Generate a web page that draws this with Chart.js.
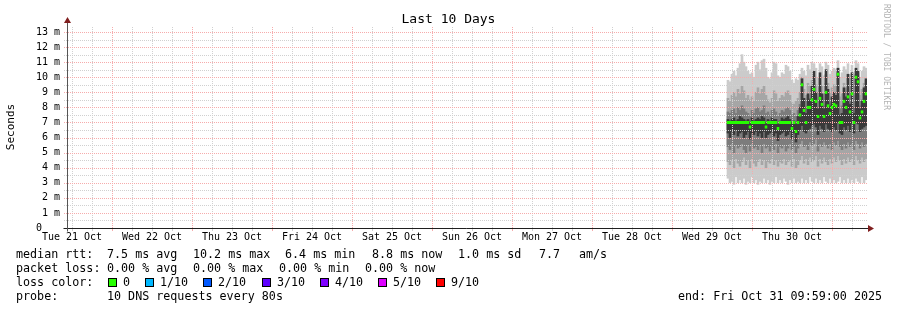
<!DOCTYPE html>
<html>
<head>
<meta charset="utf-8">
<script src="https://cdn.jsdelivr.net/npm/chart.js@4/dist/chart.umd.min.js"></script>
<style>
  html, body { margin:0; padding:0; background:#fff; }
  #wrap { position:relative; width:897px; height:310px; overflow:hidden; background:#fff; }
  canvas { position:absolute; left:0; top:0; }
  .t { position:absolute; font-family:'DejaVu Sans Mono', monospace; font-size:11.7px; line-height:14px; white-space:pre; color:#000; }
  .sq { position:absolute; width:7px; height:7px; border:1px solid #000; }
  #title { position:absolute; left:0; width:897px; top:11px; text-align:center; font-family:'DejaVu Sans Mono', monospace; font-size:13px; line-height:16px; color:#000; }
  #rrd { position:absolute; left:881px; top:4px; writing-mode:vertical-rl; font-family:'DejaVu Sans Mono', monospace; font-size:8px; line-height:10px; color:#b4b4b4; white-space:pre; }
</style>
</head>
<body>
<div id="wrap">
<canvas id="c" width="897" height="310"></canvas>
<div id="title">Last 10 Days</div>
<div id="rrd">RRDTOOL / TOBI OETIKER</div>
<div class="t" style="left:16px;top:247px">median rtt:</div>
<div class="t" style="left:107px;top:247px">7.5 ms avg</div>
<div class="t" style="left:193px;top:247px">10.2 ms max</div>
<div class="t" style="left:285px;top:247px">6.4 ms min</div>
<div class="t" style="left:372px;top:247px">8.8 ms now</div>
<div class="t" style="left:458px;top:247px">1.0 ms sd</div>
<div class="t" style="left:539px;top:247px">7.7</div>
<div class="t" style="left:579px;top:247px">am/s</div>

<div class="t" style="left:16px;top:261px">packet loss:</div>
<div class="t" style="left:107px;top:261px">0.00 % avg</div>
<div class="t" style="left:193px;top:261px">0.00 % max</div>
<div class="t" style="left:279px;top:261px">0.00 % min</div>
<div class="t" style="left:365px;top:261px">0.00 % now</div>

<div class="t" style="left:16px;top:275px">loss color:</div>
<div id="losslegend"></div>

<div class="t" style="left:16px;top:289px">probe:</div>
<div class="t" style="left:107px;top:289px">10 DNS requests every 80s</div>
<div class="t" style="left:678px;top:289px">end: Fri Oct 31 09:59:00 2025</div>
</div>

<script>
// ---------- DATA ----------
// x axis: hours since Tue 21 Oct 00:00
const axisStartHour = 10.5;
const axisEndHour = 250.5;
const dayLabels = ['Tue 21 Oct','Wed 22 Oct','Thu 23 Oct','Fri 24 Oct','Sat 25 Oct','Sun 26 Oct','Mon 27 Oct','Tue 28 Oct','Wed 29 Oct','Thu 30 Oct'];
const dayLabelHours = [12, 36, 60, 84, 108, 132, 156, 180, 204, 228];
const yTickValues = [0,1,2,3,4,5,6,7,8,9,10,11,12,13];

// sample times (hours since Tue 21 Oct 00:00), one RRD step each
const firstSampleHour = 208.8;
const sampleStepHours = 0.6;

// values in milliseconds
const median = [
  7.0,7.0,7.0,7.0,7.0,7.0,7.0,7.0,7.0,7.0,
  7.0,6.7,7.0,7.0,7.0,7.0,7.0,7.0,7.0,6.7,
  7.0,7.0,7.0,7.0,7.0,6.6,7.0,7.0,7.0,7.0,
  7.0,7.0,6.6,7.0,6.4,7.0,7.5,9.5,7.8,7.0,
  8.0,8.0,8.5,9.2,8.4,7.4,8.6,8.2,7.4,9.0,
  8.1,7.6,8.0,8.2,8.1,10.2,7.0,7.0,8.4,8.0,
  8.7,7.7,8.9,7.0,10.0,9.7,7.3,7.7,8.4,8.9
];
const smokeMin = [
  3.3,3.0,3.1,2.9,3.4,3.0,3.2,3.0,3.3,2.9,
  3.1,3.0,3.4,3.0,3.2,2.9,3.1,3.0,3.3,3.0,
  3.2,2.9,3.1,3.0,3.4,3.0,3.2,3.0,3.3,3.1,
  2.9,3.2,3.0,3.3,3.0,3.1,3.0,3.3,3.0,3.2,
  3.0,3.4,3.1,3.0,3.3,3.0,3.2,3.0,3.4,3.1,
  3.0,3.3,3.0,3.2,3.0,3.1,3.4,3.0,3.2,3.0,
  3.3,3.0,3.2,3.0,3.3,3.1,3.0,3.4,3.0,3.2
];
const smokeMax = [
  9.8,9.7,10.2,10.4,10.1,10.6,10.9,11.5,11.0,10.7,
  10.4,10.2,10.3,10.0,10.8,11.0,10.5,11.1,11.2,10.6,
  10.0,9.9,10.3,11.0,10.9,10.1,10.0,10.3,10.2,10.8,
  10.7,10.4,9.8,9.6,9.9,9.8,10.2,10.6,10.4,10.1,
  10.8,10.5,11.0,10.9,10.6,10.0,10.9,10.7,10.1,11.0,
  10.8,10.2,10.4,10.6,10.5,11.1,10.0,10.3,10.7,10.5,
  10.9,10.2,10.8,10.1,11.1,10.9,10.0,10.4,10.7,10.6
];
const band2Lo = [
  4.4,4.2,4.5,4.0,4.6,4.3,4.1,4.4,4.7,4.2,
  4.5,4.0,4.6,4.3,4.1,4.4,4.6,4.2,4.5,4.0,
  4.4,4.3,4.6,4.2,4.5,4.1,4.4,4.3,4.6,4.2,
  4.4,4.5,4.1,4.6,4.0,4.2,4.5,4.8,4.3,4.6,
  4.2,4.7,4.4,4.5,4.8,4.1,4.6,4.3,4.7,4.4,
  4.2,4.6,4.3,4.7,4.4,4.8,4.5,4.2,4.6,4.3,
  4.7,4.4,4.6,4.2,4.8,4.5,4.3,4.7,4.4,4.6
];
const band2Hi = [
  8.6,8.4,8.8,9.0,8.7,9.2,8.9,9.4,9.1,8.6,
  8.8,8.5,8.7,8.4,9.0,9.3,8.9,9.2,9.4,8.8,
  8.5,8.3,8.6,9.1,8.9,8.4,8.6,8.8,8.7,9.0,
  9.1,8.8,8.3,8.2,8.4,8.6,9.0,10.0,9.2,8.8,
  9.6,9.4,9.8,10.1,9.5,8.7,9.9,9.4,8.9,10.2,
  9.6,9.0,9.3,9.5,9.4,10.6,8.7,8.9,9.6,9.3,
  9.9,9.0,10.0,8.8,10.5,10.3,8.8,9.2,9.6,9.8
];
const band3Lo = [
  5.4,5.2,5.6,5.0,5.5,5.3,5.4,5.6,5.2,5.0,
  5.5,5.1,5.6,5.3,5.4,5.2,5.5,5.0,5.6,5.3,
  5.4,5.1,5.5,5.2,5.6,5.0,5.4,5.3,5.5,5.1,
  5.3,5.6,5.2,5.4,5.0,5.3,5.6,5.8,5.4,5.5,
  5.2,5.7,5.5,5.6,5.9,5.1,5.6,5.4,5.7,5.5,
  5.3,5.6,5.2,5.7,5.5,5.8,5.4,5.2,5.6,5.3,
  5.7,5.4,5.6,5.2,5.8,5.6,5.3,5.7,5.4,5.6
];
const band3Hi = [
  7.7,7.6,7.8,7.9,7.6,8.0,7.8,8.1,7.9,7.7,
  7.6,7.4,7.8,7.6,7.9,8.0,7.7,7.8,8.1,7.6,
  7.7,7.5,7.8,7.9,7.7,7.4,7.6,7.8,7.7,7.9,
  8.0,7.8,7.5,7.6,7.4,7.8,8.2,9.6,8.5,8.0,
  8.8,8.6,9.2,9.8,8.9,8.0,9.3,8.8,8.1,9.6,
  8.9,8.3,8.6,8.8,8.7,10.3,7.9,8.1,9.0,8.6,
  9.3,8.3,9.5,8.0,10.2,10.0,8.1,8.5,9.0,9.4
];
const band4Lo = [
  6.3,6.0,6.4,6.2,6.5,6.1,6.3,6.4,6.0,6.2,
  6.4,5.9,6.3,6.2,6.4,6.1,6.3,6.0,6.4,6.0,
  6.2,6.3,6.4,6.1,6.3,5.8,6.2,6.3,6.4,6.1,
  6.2,6.4,5.9,6.3,5.7,6.2,6.5,6.8,6.4,6.3,
  6.5,6.6,6.8,6.9,6.7,6.2,6.8,6.6,6.4,6.9,
  6.6,6.5,6.4,6.7,6.5,7.0,6.3,6.2,6.7,6.5,
  6.8,6.4,6.9,6.3,7.0,6.9,6.4,6.6,6.7,6.8
];
const band4Hi = [
  7.2,7.1,7.2,7.3,7.1,7.2,7.4,7.3,7.2,7.1,
  7.2,7.0,7.3,7.1,7.2,7.3,7.2,7.4,7.3,7.0,
  7.2,7.1,7.3,7.2,7.2,6.9,7.1,7.3,7.2,7.3,
  7.4,7.2,7.0,7.1,6.9,7.4,8.0,9.9,8.6,7.6,
  8.9,8.5,9.4,10.4,9.0,7.9,10.3,8.9,7.9,10.5,
  9.2,8.1,8.7,9.0,8.8,10.6,7.5,7.6,9.3,8.7,
  10.2,8.2,10.3,7.6,10.6,10.4,7.9,8.4,9.3,9.9
];

const lossLabels = ['0','1/10','2/10','3/10','4/10','5/10','9/10'];
const lossColors = ['#26ff00','#00b8ff','#0059ff','#5e00ff','#7e00ff','#dd00ff','#ff0000'];

// ---------- BUILD ----------
const sampleHours = median.map((_, i) => firstSampleHour + i * sampleStepHours);
function floating(lo, hi) { return sampleHours.map((h, i) => ({ x: h, y: [lo[i], hi[i]] })); }
const medianBars = sampleHours.map((h, i) => ({ x: h, y: [median[i] - 0.1, median[i] + 0.1] }));

const legendBox = document.getElementById('losslegend');
const sqX = [108, 145, 203, 262, 320, 378, 436];
lossLabels.forEach((lab, i) => {
  const s = document.createElement('div');
  s.className = 'sq'; s.style.left = sqX[i] + 'px'; s.style.top = '278px'; s.style.background = lossColors[i];
  legendBox.appendChild(s);
  const t = document.createElement('div');
  t.className = 't'; t.style.left = (sqX[i] + 15) + 'px'; t.style.top = '275px'; t.textContent = lab;
  legendBox.appendChild(t);
});

const FONT = "'DejaVu Sans Mono', monospace";
const MINOR = 'rgb(208,208,208)';
const MAJOR = 'rgb(246,172,172)';

function drawGrid(chart) {
  const { ctx, chartArea: a, scales: { x, y } } = chart;
  ctx.save();
  ctx.lineWidth = 1;
  ctx.setLineDash([1, 1]);
  for (let h = Math.ceil(axisStartHour / 6) * 6; h <= axisEndHour; h += 6) {
    const px = Math.round(x.getPixelForValue(h)) + 0.5;
    ctx.strokeStyle = (h % 24 === 0) ? MAJOR : MINOR;
    ctx.beginPath(); ctx.moveTo(px, a.bottom); ctx.lineTo(px, a.top); ctx.stroke();
  }
  for (let v = 0.5; v <= 13.4; v += 0.5) {
    const py = Math.round(y.getPixelForValue(v)) + 0.5;
    ctx.strokeStyle = Number.isInteger(v) ? MAJOR : MINOR;
    ctx.beginPath(); ctx.moveTo(a.left - 3, py); ctx.lineTo(a.right, py); ctx.stroke();
  }
  ctx.restore();
}

const rrdPlugin = {
  id: 'rrdgrid',
  afterDatasetDraw(chart, args) {
    // grid goes over the smoke but under the median (dataset 0, drawn last)
    if (args.index === 1) drawGrid(chart);
  },
  afterDatasetsDraw(chart) {
    const { ctx, chartArea: a, scales: { x } } = chart;
    ctx.save();
    ctx.lineWidth = 1;
    for (let h = Math.ceil(axisStartHour / 6) * 6; h <= axisEndHour; h += 6) {
      const px = Math.round(x.getPixelForValue(h)) + 0.5;
      ctx.strokeStyle = (h % 24 === 0) ? MAJOR : MINOR;
      ctx.beginPath(); ctx.moveTo(px, a.bottom + 1); ctx.lineTo(px, a.bottom + 3); ctx.stroke();
    }
    const ax = Math.round(a.left) + 0.5, ay = Math.round(a.bottom) + 0.5;
    ctx.strokeStyle = '#1f1f1f';
    ctx.beginPath(); ctx.moveTo(ax - 4, ay); ctx.lineTo(a.right + 2, ay); ctx.stroke();
    ctx.strokeStyle = '#555555';
    ctx.beginPath(); ctx.moveTo(ax, ay + 3); ctx.lineTo(ax, a.top - 4); ctx.stroke();
    ctx.fillStyle = '#801f1f';
    ctx.beginPath(); ctx.moveTo(ax - 3.5, a.top - 3); ctx.lineTo(ax + 3.5, a.top - 3); ctx.lineTo(ax, a.top - 9); ctx.closePath(); ctx.fill();
    ctx.beginPath(); ctx.moveTo(a.right + 1, ay - 3.5); ctx.lineTo(a.right + 1, ay + 3.5); ctx.lineTo(a.right + 7, ay); ctx.closePath(); ctx.fill();
    ctx.restore();
  }
};

const barCommon = { grouped: false, borderWidth: 0, barPercentage: 1, categoryPercentage: 1 };

new Chart(document.getElementById('c'), {
  type: 'bar',
  data: {
    datasets: [
      Object.assign({}, barCommon, { label: 'median', data: medianBars, backgroundColor: '#26ff00', order: 0, barPercentage: 1.3 }),
      Object.assign({}, barCommon, { label: 'smoke4', data: floating(band4Lo, band4Hi), backgroundColor: '#3a3a3a', order: 1 }),
      Object.assign({}, barCommon, { label: 'smoke3', data: floating(band3Lo, band3Hi), backgroundColor: '#7c7c7c', order: 2 }),
      Object.assign({}, barCommon, { label: 'smoke2', data: floating(band2Lo, band2Hi), backgroundColor: '#a6a6a6', order: 3 }),
      Object.assign({}, barCommon, { label: 'smoke1', data: floating(smokeMin, smokeMax), backgroundColor: '#cbcbcb', order: 4 })
    ]
  },
  options: {
    responsive: false,
    animation: false,
    events: [],
    layout: { padding: { left: 0, right: 30, top: 26, bottom: 0 } },
    plugins: {
      legend: { display: false },
      tooltip: { enabled: false },
      title: { display: false }
    },
    scales: {
      x: {
        type: 'linear', min: axisStartHour, max: axisEndHour, offset: false,
        grid: { display: false, drawTicks: false }, border: { display: false },
        afterBuildTicks: (s) => { s.ticks = dayLabelHours.map(v => ({ value: v })); },
        afterFit: (s) => { s.height = 82; },
        ticks: {
          autoSkip: false, maxRotation: 0, minRotation: 0, padding: 3, color: '#000',
          font: { family: FONT, size: 10 },
          callback: (v, i) => dayLabels[i]
        }
      },
      y: {
        type: 'linear', min: 0, max: 13.4,
        grid: { display: false, drawTicks: false }, border: { display: false },
        afterBuildTicks: (s) => { s.ticks = yTickValues.map(v => ({ value: v })); },
        afterFit: (s) => { s.width = 67; },
        title: { display: true, text: 'Seconds', color: '#000', font: { family: FONT, size: 11 }, padding: { top: 5, bottom: 0 } },
        ticks: {
          padding: 7, color: '#000', font: { family: FONT, size: 10 },
          callback: (v) => v === 0 ? '0   ' : v + ' m'
        }
      }
    }
  },
  plugins: [rrdPlugin]
});
</script>
</body>
</html>
